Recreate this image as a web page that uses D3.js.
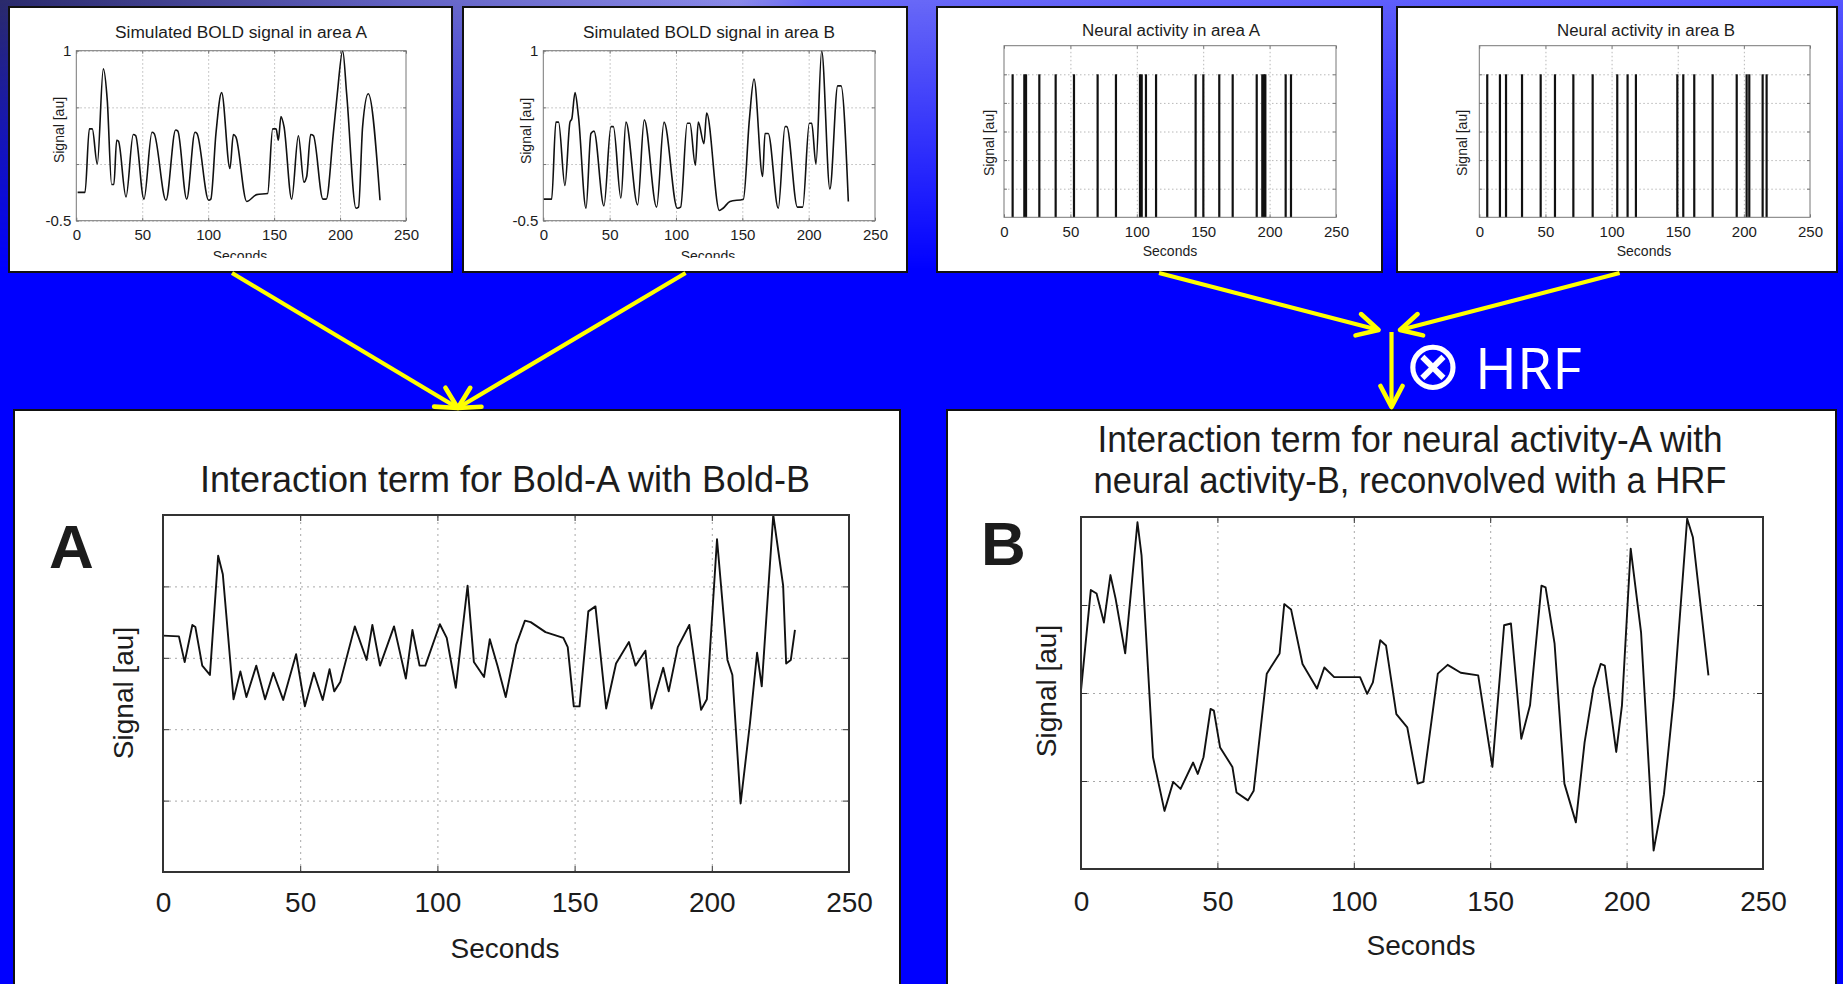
<!DOCTYPE html>
<html>
<head>
<meta charset="utf-8">
<script src="https://cdn.jsdelivr.net/npm/d3@7"></script>
<style>
body { margin: 0; background: #0000ff; overflow: hidden; }
svg { display: block; }
text { font-family: "Liberation Sans", Arial, sans-serif; fill: #1c1c1c; }
</style>
</head>
<body>
<script>
var width = 1843, height = 984;

// ---- data ----
var xTicks = [0, 50, 100, 150, 200, 250];
var gridX = [50, 100, 150, 200];
var boldGridY = [-0.5, 0, 0.5, 1];
var boldYLabels = [1, -0.5];
var spikeGridY = [0.2, 0.4, 0.6, 0.8, 1.0];

// simulated BOLD, area A  [seconds, signal]
var boldA = [[1,-0.25],[6.6,-0.25],[9.9,0.31],[12.1,0.31],[15.9,0],[20.5,0.84],[23.5,0.56],[26.8,-0.18],[28.5,-0.18],
  [30.6,0.21],[32,0.2],[37.7,-0.29],[43.2,0.26],[45,0.25],[51.3,-0.31],[57.4,0.28],[59,0.27],[68,-0.32],[75.3,0.3],
  [77,0.29],[83.7,-0.31],[90,0.28],[91.5,0.27],[100.4,-0.32],[102,-0.31],[105.9,0.27],[110.2,0.63],[116.5,-0.04],
  [119.1,0.26],[121,0.24],[129.2,-0.33],[136.8,-0.27],[145.1,-0.26],[148.9,0.31],[151.5,0.31],[153.2,0.21],[155.2,0.42],
  [157.5,0.33],[163.3,-0.31],[168.4,0.25],[172.6,-0.16],[174.7,-0.11],[177.7,0.26],[179.8,0.25],[187,-0.31],[189.5,-0.31],
  [194.9,0.27],[197.9,0.62],[202,1.0],[205,0.62],[212.1,-0.39],[214,-0.38],[217.1,0.33],[221.4,0.62],[230.3,-0.32]];

// simulated BOLD, area B
var boldB = [[0,-0.31],[6.3,-0.31],[9.5,0.37],[11.5,0.37],[16.3,-0.19],[20.1,0.37],[21.5,0.40],[23.9,0.63],[26.5,0.42],
  [32.2,-0.39],[35.9,0.27],[38.2,0.29],[45.7,-0.37],[51,0.33],[52.8,0.33],[58.5,-0.30],[62.3,0.37],[71.1,-0.36],[76.1,0.39],
  [85.4,-0.38],[91,0.37],[101,-0.39],[103.5,-0.38],[108.5,0.36],[110.5,0.36],[114.6,-0.01],[116.8,0.37],[121.1,0.18],
  [123.1,0.45],[132.7,-0.41],[135.5,-0.39],[140.7,-0.33],[150.8,-0.31],[155.3,0.39],[158.8,0.75],[165.3,-0.11],[167.1,0.27],
  [169.5,0.27],[177.1,-0.39],[182.2,0.33],[183.5,0.33],[191.5,-0.38],[195.5,-0.38],[200.5,0.36],[202.3,0.36],[205.5,0],
  [209.8,1.0],[216,-0.22],[221.9,0.69],[224.4,0.69],[229.9,-0.33]];

// neural events (seconds)
var spikesA = [6.5, 15.3, 16.6, 26.6, 38.9, 52.7, 70.5, 84.3, 102.4, 103.7, 106.9, 114.5, 144.3, 150.1, 162.1, 172.2,
  190.3, 194.5, 195.8, 196.8, 212.1, 216.1];
var spikesB = [6.0, 15.6, 20.2, 32.3, 46.4, 57.2, 71.1, 85.7, 104.3, 112.1, 118.4, 149.7, 154.2, 162.5, 176.4, 194.6,
  202.1, 204.1, 214.2, 217.2];

// interaction term Bold-A x Bold-B (arbitrary units, 0..5)
var interA = [[0,3.31],[5.8,3.30],[7.9,2.94],[10.7,3.46],[11.8,3.43],[14.3,2.89],[17.1,2.76],[20.1,4.43],[21.8,4.17],
  [25.7,2.42],[28.2,2.81],[30.4,2.45],[34,2.89],[37.2,2.42],[40.2,2.79],[43.8,2.41],[48.5,3.05],[51.7,2.32],[55,2.79],
  [58.2,2.41],[60.7,2.84],[62.4,2.53],[64.6,2.66],[69.9,3.44],[74.2,2.97],[76.3,3.46],[79.1,2.89],[84.2,3.44],[88.5,2.71],
  [90.9,3.39],[93.5,2.89],[95.6,2.89],[100.9,3.47],[103.4,3.28],[106.7,2.58],[111,4.01],[113.3,2.94],[117,2.73],
  [119.1,3.26],[121.9,2.89],[124.9,2.45],[128.7,3.18],[131.9,3.52],[134,3.50],[139.4,3.36],[145.9,3.28],[147.5,3.15],
  [149.7,2.32],[151.8,2.32],[155,3.65],[157.6,3.72],[161.5,2.29],[165.1,2.92],[169.8,3.22],[172.2,2.89],[175.8,3.10],
  [178,2.29],[182.3,2.86],[184.3,2.53],[187.6,3.15],[191.8,3.46],[196.1,2.27],[198.2,2.42],[201.9,4.66],[205.7,2.97],
  [207.5,2.76],[210.5,0.96],[213.9,2.08],[216.5,3.07],[218.2,2.60],[222.4,5.0],[226,4.01],[227.1,2.92],[228.8,2.97],
  [230.3,3.39]];

// interaction of neural activity, reconvolved with HRF (arbitrary units, 0..4)
var interB = [[0,2.03],[3.6,3.17],[5.7,3.13],[8.4,2.80],[10.8,3.34],[12.7,3.07],[16.2,2.45],[20.7,3.94],[22.2,3.56],
  [26.4,1.27],[30.6,0.66],[33.8,0.99],[36.5,0.91],[41.1,1.21],[42.8,1.08],[44.9,1.27],[47.5,1.82],[48.7,1.80],[51,1.38],
  [55.5,1.16],[57,0.87],[61.2,0.78],[63.3,0.89],[68.1,2.22],[72.8,2.45],[74.5,3.01],[77,2.95],[81.2,2.33],[86.5,2.05],
  [89.2,2.29],[92.8,2.18],[102.3,2.18],[104.9,1.99],[107,2.12],[109.7,2.60],[111.8,2.54],[115.6,1.76],[119.6,1.61],
  [123.4,0.97],[125.5,0.99],[130.8,2.22],[134.4,2.32],[139.2,2.23],[145.6,2.20],[150.8,1.16],[155.1,2.77],[157.6,2.79],
  [161.4,1.48],[164.6,1.86],[168.8,3.22],[170.3,3.20],[173.6,2.56],[177.2,0.97],[181.4,0.53],[184.6,1.44],[187.8,2.05],
  [190.5,2.33],[192,2.31],[196.2,1.33],[198.3,1.86],[201.5,3.64],[205.3,2.69],[209.9,0.21],[213.7,0.85],[217.3,1.95],
  [222.2,3.98],[224.3,3.77],[230,2.20]];

var svg = d3.select("body").append("svg")
    .attr("width", width)
    .attr("height", height);
var defs = svg.append("defs");

// ---- slide background ----
svg.append("rect").attr("width", width).attr("height", height).attr("fill", "#0000ff");

var hGrad = defs.append("linearGradient").attr("id", "topH")
    .attr("gradientUnits", "userSpaceOnUse")
    .attr("x1", 0).attr("y1", 0).attr("x2", width).attr("y2", 0);
[[0, "#2a2a6a"], [0.22, "#6464c4"], [0.40, "#8a8ae8"], [0.44, "#6a6af6"], [1, "#5656ff"]].forEach(function(s){
    hGrad.append("stop").attr("offset", s[0]).attr("stop-color", s[1]);
});
var vGrad = defs.append("linearGradient").attr("id", "topV")
    .attr("x1", 0).attr("y1", 0).attr("x2", 0).attr("y2", 1);
vGrad.append("stop").attr("offset", 0).attr("stop-color", "#fff").attr("stop-opacity", 1);
vGrad.append("stop").attr("offset", 1).attr("stop-color", "#fff").attr("stop-opacity", 0);
defs.append("mask").attr("id", "topMask")
    .append("rect").attr("width", width).attr("height", 270).attr("fill", "url(#topV)");
svg.append("rect").attr("width", width).attr("height", 270)
    .attr("fill", "url(#topH)").attr("mask", "url(#topMask)");

// ---- one matlab-style plot on a white card ----
function drawPlot(p) {
    var g = svg.append("g");
    g.append("rect")
        .attr("x", p.box[0]).attr("y", p.box[1])
        .attr("width", p.box[2] - p.box[0]).attr("height", p.box[3] - p.box[1])
        .attr("fill", "#fff").attr("stroke", "#111").attr("stroke-width", 2);

    var x = d3.scaleLinear().domain([0, 250]).range([p.plot[0], p.plot[2]]);
    var y = d3.scaleLinear().domain(p.yDomain).range([p.plot[3], p.plot[1]]);
    var w = p.plot[2] - p.plot[0], h = p.plot[3] - p.plot[1];

    // dotted grid
    g.append("g").attr("class", "grid")
        .attr("transform", "translate(0," + p.plot[3] + ")")
        .call(d3.axisBottom(x).tickValues(gridX).tickSize(-h).tickFormat(""));
    g.append("g").attr("class", "grid")
        .attr("transform", "translate(" + p.plot[0] + ",0)")
        .call(d3.axisLeft(y).tickValues(p.gridY).tickSize(-w).tickFormat(""));
    g.selectAll(".grid .domain").remove();
    g.selectAll(".grid line")
        .attr("stroke", p.gridColor)
        .attr("stroke-width", 1)
        .attr("stroke-dasharray", p.dash);

    // inward ticks on all four sides
    var tk = p.tick;
    var ticks = [
        [d3.axisBottom(x).tickValues(xTicks), "translate(0," + p.plot[3] + ")"],
        [d3.axisTop(x).tickValues(xTicks), "translate(0," + p.plot[1] + ")"],
        [d3.axisLeft(y).tickValues(p.gridY), "translate(" + p.plot[0] + ",0)"],
        [d3.axisRight(y).tickValues(p.gridY), "translate(" + p.plot[2] + ",0)"]
    ];
    ticks.forEach(function(a){
        var ax = g.append("g").attr("class", "tk").attr("transform", a[1])
            .call(a[0].tickSize(-tk).tickFormat(""));
        ax.select(".domain").remove();
        ax.selectAll("line").attr("stroke", p.frameColor).attr("stroke-width", 1);
    });

    // data
    var clipId = "clip" + p.id;
    defs.append("clipPath").attr("id", clipId)
        .append("rect").attr("x", p.plot[0]).attr("y", p.plot[1] - 2).attr("width", w).attr("height", h + 2);
    if (p.kind === "line") {
        var line = d3.line()
            .x(function(d){ return x(d[0]); })
            .y(function(d){ return y(d[1]); })
            .curve(p.curve);
        g.append("path").datum(p.data)
            .attr("clip-path", "url(#" + clipId + ")")
            .attr("d", line)
            .attr("fill", "none")
            .attr("stroke", "#111")
            .attr("stroke-width", p.lineWidth)
            .attr("stroke-linejoin", "round");
    } else {
        g.selectAll(".spike").data(p.data).join("line")
            .attr("class", "spike")
            .attr("x1", function(d){ return x(d); })
            .attr("x2", function(d){ return x(d); })
            .attr("y1", y(0)).attr("y2", y(1))
            .attr("stroke", "#111")
            .attr("stroke-width", p.lineWidth);
    }

    // frame
    g.append("rect")
        .attr("x", p.plot[0]).attr("y", p.plot[1]).attr("width", w).attr("height", h)
        .attr("fill", "none").attr("stroke", p.frameColor).attr("stroke-width", p.frameWidth);

    // tick labels
    var xl = g.append("g")
        .attr("transform", "translate(0," + p.plot[3] + ")")
        .call(d3.axisBottom(x).tickValues(xTicks).tickSize(0).tickPadding(p.xPad));
    xl.select(".domain").remove();
    xl.selectAll("text").attr("font-size", p.tickFont).attr("fill", "#1c1c1c");

    if (p.yLabels) {
        var yl = g.append("g")
            .attr("transform", "translate(" + p.plot[0] + ",0)")
            .call(d3.axisLeft(y).tickValues(p.yLabels).tickSize(0).tickPadding(5)
                .tickFormat(function(d){ return String(d); }));
        yl.select(".domain").remove();
        yl.selectAll("text").attr("font-size", p.tickFont).attr("fill", "#1c1c1c");
    }
    g.selectAll("g").attr("font-family", null);

    // titles
    p.title.forEach(function(t){
        g.append("text")
            .attr("x", t[0]).attr("y", t[1])
            .attr("text-anchor", "middle")
            .attr("font-size", p.titleFont)
            .attr("textLength", t[2])
            .attr("lengthAdjust", "spacingAndGlyphs")
            .text(t[3]);
    });

    var xlab = g.append("text")
        .attr("x", p.xLabel[0]).attr("y", p.xLabel[1])
        .attr("text-anchor", "middle")
        .attr("font-size", p.labelFont)
        .text("Seconds");
    if (p.clipBottom) {
        defs.append("clipPath").attr("id", clipId + "b")
            .append("rect").attr("x", p.box[0]).attr("y", p.box[1]).attr("width", p.box[2] - p.box[0])
            .attr("height", p.clipBottom - p.box[1]);
        xlab.attr("clip-path", "url(#" + clipId + "b)");
    }

    g.append("text")
        .attr("transform", "translate(" + p.yLabel[0] + "," + p.yLabel[1] + ") rotate(-90)")
        .attr("text-anchor", "middle")
        .attr("font-size", p.labelFont)
        .text("Signal [au]");

    if (p.letter) {
        g.append("text")
            .attr("x", p.letter[0]).attr("y", p.letter[1])
            .attr("font-size", 62).attr("font-weight", "bold").attr("fill", "#000")
            .text(p.letter[2]);
    }
}

var smallStyle = {
    kind: "line", curve: d3.curveMonotoneX, lineWidth: 1.6,
    gridColor: "#b8b8b8", dash: "1.5,2.5", frameColor: "#777", frameWidth: 1, tick: 3,
    tickFont: 15, titleFont: 16, labelFont: 14, xPad: 8.6
};
var bigStyle = {
    kind: "line", curve: d3.curveLinear, lineWidth: 1.9,
    gridColor: "#a8a8a8", dash: "2,4", frameColor: "#333", frameWidth: 2, tick: 6,
    tickFont: 28, titleFont: 36, labelFont: 28
};

drawPlot(Object.assign({}, smallStyle, {
    id: 1, box: [9, 7, 452, 272], plot: [76.3, 50.7, 406, 220.7],
    yDomain: [-0.5, 1], gridY: boldGridY, yLabels: boldYLabels, data: boldA,
    title: [[241, 38, 252, "Simulated BOLD signal in area A"]],
    xLabel: [240, 261], clipBottom: 258, yLabel: [64, 130]
}));
drawPlot(Object.assign({}, smallStyle, {
    id: 2, box: [463, 7, 907, 272], plot: [543.3, 50.7, 875, 220.7],
    yDomain: [-0.5, 1], gridY: boldGridY, yLabels: boldYLabels, data: boldB,
    title: [[709, 38, 252, "Simulated BOLD signal in area B"]],
    xLabel: [708, 261], clipBottom: 258, yLabel: [531, 131]
}));
drawPlot(Object.assign({}, smallStyle, {
    id: 3, box: [937, 7, 1382, 272], plot: [1004, 45.7, 1336, 217.3],
    kind: "spike", lineWidth: 2.2,
    yDomain: [0, 1.2], gridY: spikeGridY, data: spikesA,
    title: [[1171, 36, 178, "Neural activity in area A"]],
    xLabel: [1170, 256], yLabel: [994, 143]
}));
drawPlot(Object.assign({}, smallStyle, {
    id: 4, box: [1397, 7, 1837, 272], plot: [1479.3, 45.7, 1810, 217.3],
    kind: "spike", lineWidth: 2.2,
    yDomain: [0, 1.2], gridY: spikeGridY, data: spikesB,
    title: [[1646, 36, 178, "Neural activity in area B"]],
    xLabel: [1644, 256], yLabel: [1467, 143]
}));
drawPlot(Object.assign({}, bigStyle, {
    id: 5, box: [14, 410, 900, 990], plot: [163, 515, 849, 872],
    yDomain: [0, 5], gridY: [1, 2, 3, 4], data: interA, xPad: 20,
    title: [[505, 492, 610, "Interaction term for Bold-A with Bold-B"]],
    xLabel: [505, 958], yLabel: [133, 693], letter: [49, 568, "A"]
}));
drawPlot(Object.assign({}, bigStyle, {
    id: 6, box: [947, 410, 1836, 990], plot: [1081, 517, 1763, 869],
    yDomain: [0, 4], gridY: [1, 2, 3], data: interB, xPad: 22,
    title: [[1410, 452, 625, "Interaction term for neural activity-A with"],
            [1410, 493, 633, "neural activity-B, reconvolved with a HRF"]],
    xLabel: [1421, 955], yLabel: [1056, 691], letter: [981, 565, "B"]
}));

// ---- yellow arrows ----
var arrows = [
    [232, 273, 457.8, 408],
    [685.6, 273, 457.8, 408],
    [1159, 273, 1378.6, 330],
    [1619.6, 273, 1400, 330],
    [1391.5, 332, 1391.5, 407]
];
defs.append("marker").attr("id", "chev")
    .attr("markerUnits", "userSpaceOnUse")
    .attr("viewBox", "-26 -14 30 28")
    .attr("refX", 0).attr("refY", 0)
    .attr("markerWidth", 30).attr("markerHeight", 28)
    .attr("orient", "auto")
    .append("path")
    .attr("d", "M-21,-11 L0,0 L-21,11")
    .attr("fill", "none").attr("stroke", "#ffff00")
    .attr("stroke-width", 4.6).attr("stroke-linecap", "round").attr("stroke-linejoin", "round");

svg.selectAll(".arrow").data(arrows).join("line")
    .attr("class", "arrow")
    .attr("x1", function(d){ return d[0]; }).attr("y1", function(d){ return d[1]; })
    .attr("x2", function(d){ return d[2]; }).attr("y2", function(d){ return d[3]; })
    .attr("stroke", "#ffff00").attr("stroke-width", 4.2)
    .attr("marker-end", "url(#chev)");

var hrf = svg.append("text").attr("y", 389).style("fill", "#fff");
hrf.append("tspan").attr("x", 1404).attr("font-family", "DejaVu Sans").attr("font-weight", 200)
    .attr("font-size", 69).style("fill", "#fff").text("\u2297");
hrf.append("tspan").attr("x", 1475).attr("font-family", "'Open Sans'").attr("font-size", 57).style("fill", "#fff").text("HRF");
</script>
</body>
</html>
